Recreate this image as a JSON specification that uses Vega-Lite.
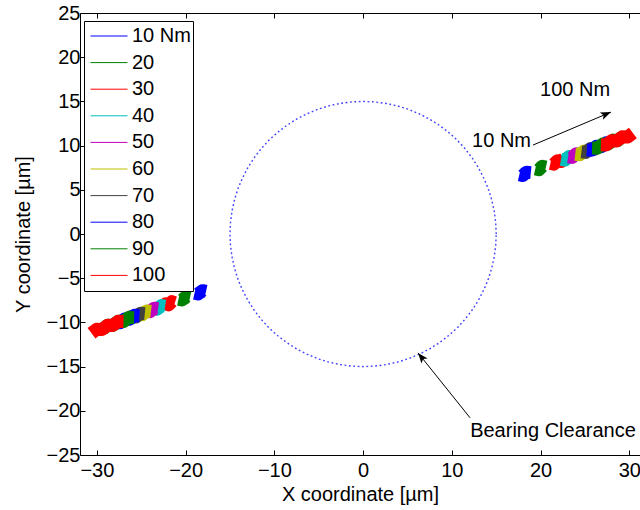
{
  "$schema": "https://vega.github.io/schema/vega-lite/v6.json",
  "width": 560,
  "height": 442,
  "autosize": {"type": "none"},
  "padding": {"left": 80, "top": 13, "right": 0, "bottom": 55},
  "background": "white",
  "config": {
    "font": "Liberation Sans",
    "view": {"stroke": null},
    "axis": {
      "grid": false,
      "domainColor": "black",
      "tickColor": "black",
      "labelColor": "black",
      "titleColor": "black",
      "labelFontSize": 20,
      "titleFontSize": 20,
      "titleFontWeight": "normal",
      "labelFont": "Liberation Sans",
      "titleFont": "Liberation Sans",
      "tickSize": -5
    }
  },
  "datasets": {
    "circle": [
      {"k":0,"x":15,"y":0},{"k":1,"x":14.94,"y":1.31},{"k":2,"x":14.77,"y":2.6},{"k":3,"x":14.49,"y":3.88},{"k":4,"x":14.1,"y":5.13},{"k":5,"x":13.59,"y":6.34},{"k":6,"x":12.99,"y":7.5},{"k":7,"x":12.29,"y":8.6},{"k":8,"x":11.49,"y":9.64},{"k":9,"x":10.61,"y":10.61},{"k":10,"x":9.64,"y":11.49},{"k":11,"x":8.6,"y":12.29},{"k":12,"x":7.5,"y":12.99},{"k":13,"x":6.34,"y":13.59},{"k":14,"x":5.13,"y":14.1},{"k":15,"x":3.88,"y":14.49},{"k":16,"x":2.6,"y":14.77},{"k":17,"x":1.31,"y":14.94},{"k":18,"x":0,"y":15},
      {"k":19,"x":-1.31,"y":14.94},{"k":20,"x":-2.6,"y":14.77},{"k":21,"x":-3.88,"y":14.49},{"k":22,"x":-5.13,"y":14.1},{"k":23,"x":-6.34,"y":13.59},{"k":24,"x":-7.5,"y":12.99},{"k":25,"x":-8.6,"y":12.29},{"k":26,"x":-9.64,"y":11.49},{"k":27,"x":-10.61,"y":10.61},{"k":28,"x":-11.49,"y":9.64},{"k":29,"x":-12.29,"y":8.6},{"k":30,"x":-12.99,"y":7.5},{"k":31,"x":-13.59,"y":6.34},{"k":32,"x":-14.1,"y":5.13},{"k":33,"x":-14.49,"y":3.88},{"k":34,"x":-14.77,"y":2.6},{"k":35,"x":-14.94,"y":1.31},{"k":36,"x":-15,"y":0},
      {"k":37,"x":-14.94,"y":-1.31},{"k":38,"x":-14.77,"y":-2.6},{"k":39,"x":-14.49,"y":-3.88},{"k":40,"x":-14.1,"y":-5.13},{"k":41,"x":-13.59,"y":-6.34},{"k":42,"x":-12.99,"y":-7.5},{"k":43,"x":-12.29,"y":-8.6},{"k":44,"x":-11.49,"y":-9.64},{"k":45,"x":-10.61,"y":-10.61},{"k":46,"x":-9.64,"y":-11.49},{"k":47,"x":-8.6,"y":-12.29},{"k":48,"x":-7.5,"y":-12.99},{"k":49,"x":-6.34,"y":-13.59},{"k":50,"x":-5.13,"y":-14.1},{"k":51,"x":-3.88,"y":-14.49},{"k":52,"x":-2.6,"y":-14.77},{"k":53,"x":-1.31,"y":-14.94},{"k":54,"x":0,"y":-15},
      {"k":55,"x":1.31,"y":-14.94},{"k":56,"x":2.6,"y":-14.77},{"k":57,"x":3.88,"y":-14.49},{"k":58,"x":5.13,"y":-14.1},{"k":59,"x":6.34,"y":-13.59},{"k":60,"x":7.5,"y":-12.99},{"k":61,"x":8.6,"y":-12.29},{"k":62,"x":9.64,"y":-11.49},{"k":63,"x":10.61,"y":-10.61},{"k":64,"x":11.49,"y":-9.64},{"k":65,"x":12.29,"y":-8.6},{"k":66,"x":12.99,"y":-7.5},{"k":67,"x":13.59,"y":-6.34},{"k":68,"x":14.1,"y":-5.13},{"k":69,"x":14.49,"y":-3.88},{"k":70,"x":14.77,"y":-2.6},{"k":71,"x":14.94,"y":-1.31},{"k":72,"x":15,"y":0}
    ],
    "blobs": [
      {"load":"10 Nm","side":"R","i":0,"x":17.6,"y":6.7},{"load":"10 Nm","side":"R","i":1,"x":18.0,"y":6.61},{"load":"10 Nm","side":"R","i":2,"x":18.4,"y":6.99},{"load":"10 Nm","side":"R","i":3,"x":18.9,"y":6.94},
      {"load":"10 Nm","side":"L","i":0,"x":-17.7,"y":-6.5},{"load":"10 Nm","side":"L","i":1,"x":-18.1,"y":-6.41},{"load":"10 Nm","side":"L","i":2,"x":-18.6,"y":-6.79},{"load":"10 Nm","side":"L","i":3,"x":-19.0,"y":-6.7},
      {"load":"20","side":"R","i":0,"x":19.4,"y":7.36},{"load":"20","side":"R","i":1,"x":19.8,"y":7.27},{"load":"20","side":"R","i":2,"x":20.2,"y":7.66},{"load":"20","side":"R","i":3,"x":20.6,"y":7.57},
      {"load":"20","side":"L","i":0,"x":-19.5,"y":-7.16},{"load":"20","side":"L","i":1,"x":-19.9,"y":-7.07},{"load":"20","side":"L","i":2,"x":-20.4,"y":-7.46},{"load":"20","side":"L","i":3,"x":-20.8,"y":-7.37},
      {"load":"30","side":"R","i":0,"x":21.1,"y":7.99},{"load":"30","side":"R","i":1,"x":21.5,"y":7.9},{"load":"30","side":"R","i":2,"x":21.9,"y":8.29},{"load":"30","side":"R","i":3,"x":22.3,"y":8.2},{"load":"30","side":"R","i":4,"x":22.7,"y":8.59},
      {"load":"30","side":"L","i":0,"x":-21.2,"y":-7.76},{"load":"30","side":"L","i":1,"x":-21.55,"y":-7.65},{"load":"30","side":"L","i":2,"x":-21.9,"y":-8.02},{"load":"30","side":"L","i":3,"x":-22.25,"y":-7.9},{"load":"30","side":"L","i":4,"x":-22.6,"y":-8.27},
      {"load":"40","side":"R","i":0,"x":22.3,"y":8.44},{"load":"40","side":"R","i":1,"x":22.75,"y":8.36},{"load":"40","side":"R","i":2,"x":23.2,"y":8.77},{"load":"40","side":"R","i":3,"x":23.6,"y":8.68},
      {"load":"40","side":"L","i":0,"x":-22.3,"y":-8.16},{"load":"40","side":"L","i":1,"x":-22.75,"y":-8.09},{"load":"40","side":"L","i":2,"x":-23.2,"y":-8.5},{"load":"40","side":"L","i":3,"x":-23.6,"y":-8.4},
      {"load":"50","side":"R","i":0,"x":23.1,"y":8.73},{"load":"50","side":"R","i":1,"x":23.55,"y":8.66},{"load":"50","side":"R","i":2,"x":24.0,"y":9.07},{"load":"50","side":"R","i":3,"x":24.4,"y":8.97},
      {"load":"50","side":"L","i":0,"x":-23.1,"y":-8.46},{"load":"50","side":"L","i":1,"x":-23.55,"y":-8.39},{"load":"50","side":"L","i":2,"x":-24.0,"y":-8.79},{"load":"50","side":"L","i":3,"x":-24.5,"y":-8.74},
      {"load":"60","side":"R","i":0,"x":23.9,"y":9.03},{"load":"60","side":"R","i":1,"x":24.4,"y":8.97},{"load":"60","side":"R","i":2,"x":24.9,"y":9.4},{"load":"60","side":"R","i":3,"x":25.4,"y":9.34},
      {"load":"60","side":"L","i":0,"x":-23.9,"y":-8.76},{"load":"60","side":"L","i":1,"x":-24.4,"y":-8.7},{"load":"60","side":"L","i":2,"x":-24.9,"y":-9.13},{"load":"60","side":"L","i":3,"x":-25.5,"y":-9.11},
      {"load":"70","side":"R","i":0,"x":24.6,"y":9.29},{"load":"70","side":"R","i":1,"x":25.1,"y":9.23},{"load":"70","side":"R","i":2,"x":25.6,"y":9.66},{"load":"70","side":"R","i":3,"x":26.1,"y":9.6},{"load":"70","side":"R","i":4,"x":26.6,"y":10.03},
      {"load":"70","side":"L","i":0,"x":-24.6,"y":-9.01},{"load":"70","side":"L","i":1,"x":-25.1,"y":-8.96},{"load":"70","side":"L","i":2,"x":-25.6,"y":-9.38},{"load":"70","side":"L","i":3,"x":-26.1,"y":-9.33},{"load":"70","side":"L","i":4,"x":-26.7,"y":-9.79},
      {"load":"80","side":"R","i":0,"x":25.2,"y":9.51},{"load":"80","side":"R","i":1,"x":25.75,"y":9.47},{"load":"80","side":"R","i":2,"x":26.3,"y":9.92},{"load":"80","side":"R","i":3,"x":26.85,"y":9.88},{"load":"80","side":"R","i":4,"x":27.4,"y":10.32},{"load":"80","side":"R","i":5,"x":27.9,"y":10.27},
      {"load":"80","side":"L","i":0,"x":-25.2,"y":-9.24},{"load":"80","side":"L","i":1,"x":-25.75,"y":-9.2},{"load":"80","side":"L","i":2,"x":-26.3,"y":-9.64},{"load":"80","side":"L","i":3,"x":-26.85,"y":-9.61},{"load":"80","side":"L","i":4,"x":-27.4,"y":-10.05},{"load":"80","side":"L","i":5,"x":-28.0,"y":-10.03},
      {"load":"90","side":"R","i":0,"x":25.8,"y":9.73},{"load":"90","side":"R","i":1,"x":26.4,"y":9.71},{"load":"90","side":"R","i":2,"x":27.0,"y":10.18},{"load":"90","side":"R","i":3,"x":27.6,"y":10.16},{"load":"90","side":"R","i":4,"x":28.2,"y":10.62},{"load":"90","side":"R","i":5,"x":28.7,"y":10.57},{"load":"90","side":"R","i":6,"x":29.2,"y":10.99},
      {"load":"90","side":"L","i":0,"x":-25.8,"y":-9.46},{"load":"90","side":"L","i":1,"x":-26.4,"y":-9.44},{"load":"90","side":"L","i":2,"x":-27.0,"y":-9.9},{"load":"90","side":"L","i":3,"x":-27.6,"y":-9.88},{"load":"90","side":"L","i":4,"x":-28.2,"y":-10.35},{"load":"90","side":"L","i":5,"x":-28.8,"y":-10.33},{"load":"90","side":"L","i":6,"x":-29.3,"y":-10.75},
      {"load":"100","side":"R","i":0,"x":26.8,"y":10.1},{"load":"100","side":"R","i":1,"x":27.4,"y":10.08},{"load":"100","side":"R","i":2,"x":28.0,"y":10.55},{"load":"100","side":"R","i":3,"x":28.6,"y":10.53},{"load":"100","side":"R","i":4,"x":29.2,"y":10.99},{"load":"100","side":"R","i":5,"x":29.8,"y":10.97},{"load":"100","side":"R","i":6,"x":30.4,"y":11.43},
      {"load":"100","side":"L","i":0,"x":-27.0,"y":-9.9},{"load":"100","side":"L","i":1,"x":-27.6,"y":-9.88},{"load":"100","side":"L","i":2,"x":-28.2,"y":-10.35},{"load":"100","side":"L","i":3,"x":-28.8,"y":-10.33},{"load":"100","side":"L","i":4,"x":-29.4,"y":-10.79},{"load":"100","side":"L","i":5,"x":-30.0,"y":-10.77},{"load":"100","side":"L","i":6,"x":-30.6,"y":-11.23}
    ],
    "arrows": [
      {"name":"load","x":19.14,"y":10.06,"x2":27.93,"y2":13.79},
      {"name":"clearance","x":12.05,"y":-20.79,"x2":6.19,"y2":-13.45}
    ],
    "labels": [
      {"text":"10 Nm","x":12.28,"y":9.84},
      {"text":"100 Nm","x":19.94,"y":15.61},
      {"text":"Bearing Clearance","x":12.06,"y":-22.96}
    ]
  },
  "resolve": {"axis": {"x": "independent", "y": "independent"}},
  "layer": [
    {
      "data": {"name": "circle"},
      "mark": {"type": "line", "color": "#0000ff", "strokeWidth": 1.4, "strokeDash": [1.8, 2.6], "opacity": 0.75, "clip": true},
      "encoding": {
        "x": {"field": "x", "type": "quantitative", "scale": {"domain": [-31.9, 31.2], "nice": false, "zero": false},
              "axis": {"orient": "bottom", "values": [-30,-20,-10,0,10,20,30], "title": "X coordinate [µm]", "labelPadding": 10, "titlePadding": 4}},
        "y": {"field": "y", "type": "quantitative", "scale": {"domain": [-25, 25], "nice": false, "zero": false},
              "axis": {"orient": "left", "values": [-25,-20,-15,-10,-5,0,5,10,15,20,25], "title": "Y coordinate [µm]", "labelPadding": 5, "titlePadding": 13}},
        "order": {"field": "k", "type": "quantitative"}
      }
    },
    {
      "data": {"name": "blobs"},
      "mark": {"type": "line", "strokeWidth": 13, "strokeCap": "butt", "strokeJoin": "round", "clip": true},
      "encoding": {
        "x": {"field": "x", "type": "quantitative", "axis": {"orient": "top", "values": [-30,-20,-10,0,10,20,30], "labels": false, "title": null}},
        "y": {"field": "y", "type": "quantitative", "axis": null},
        "color": {
          "field": "load", "type": "nominal",
          "scale": {"domain": ["10 Nm","20","30","40","50","60","70","80","90","100"],
                    "range": ["#0000ff","#008000","#ff0000","#00bfbf","#bf00bf","#bfbf00","#404040","#0000ff","#008000","#ff0000"]},
          "legend": {"orient": "none", "legendX": 4, "legendY": 8, "title": null, "symbolType": "stroke",
                     "symbolSize": 1369, "symbolStrokeWidth": 1, "labelFontSize": 20, "labelColor": "black",
                     "labelFont": "Liberation Sans", "strokeColor": "black", "fillColor": "white",
                     "padding": 2, "clipHeight": 26, "rowPadding": 0.6, "labelOffset": 4, "symbolOffset": 4}
        },
        "detail": {"field": "side", "type": "nominal"},
        "order": {"field": "i", "type": "quantitative"}
      }
    },
    {
      "data": {"name": "arrows"},
      "mark": {"type": "rule", "color": "black", "strokeWidth": 1},
      "encoding": {
        "x": {"field": "x", "type": "quantitative", "axis": null},
        "y": {"field": "y", "type": "quantitative", "axis": null},
        "x2": {"field": "x2"},
        "y2": {"field": "y2"}
      }
    },
    {
      "data": {"name": "arrows"},
      "transform": [{"filter": "datum.name === 'load'"}],
      "mark": {"type": "point", "shape": "M0,0L-1,2.6L0,2L1,2.6Z", "filled": true, "color": "black", "opacity": 1, "size": 64, "angle": 67},
      "encoding": {
        "x": {"field": "x2", "type": "quantitative", "axis": null},
        "y": {"field": "y2", "type": "quantitative", "axis": null}
      }
    },
    {
      "data": {"name": "arrows"},
      "transform": [{"filter": "datum.name === 'clearance'"}],
      "mark": {"type": "point", "shape": "M0,0L-1,2.6L0,2L1,2.6Z", "filled": true, "color": "black", "opacity": 1, "size": 64, "angle": 321},
      "encoding": {
        "x": {"field": "x2", "type": "quantitative", "axis": null},
        "y": {"field": "y2", "type": "quantitative", "axis": null}
      }
    },
    {
      "data": {"name": "labels"},
      "mark": {"type": "text", "align": "left", "baseline": "alphabetic", "fontSize": 20, "font": "Liberation Sans", "color": "black"},
      "encoding": {
        "x": {"field": "x", "type": "quantitative", "axis": null},
        "y": {"field": "y", "type": "quantitative", "axis": null},
        "text": {"field": "text"}
      }
    }
  ]
}
